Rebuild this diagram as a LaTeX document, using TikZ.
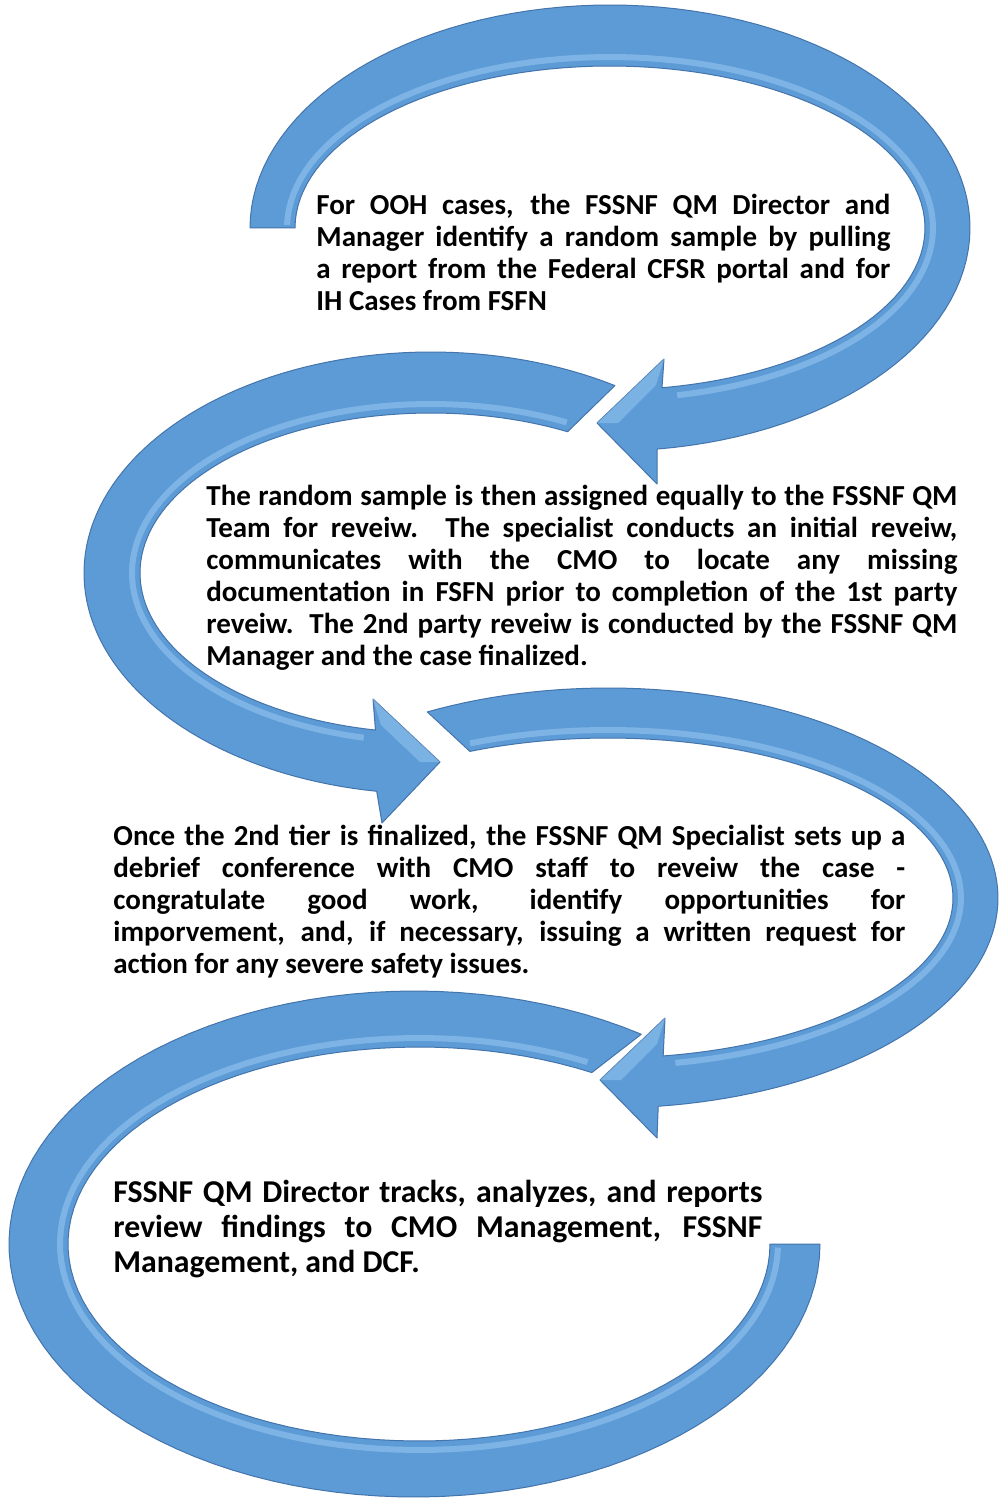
\documentclass[tikz,border=0pt]{standalone}
\usepackage{fontspec}
\setmainfont{Carlito}
\begin{document}
\begin{tikzpicture}[x=0.5pt,y=-0.5pt]
\definecolor{bandblue}{RGB}{92,155,214}
\definecolor{bandlight}{RGB}{150,198,240}
\definecolor{banddark}{RGB}{68,116,172}
\tikzset{
  band/.style={fill=bandblue, draw=banddark, line width=0.5pt, line join=round},
  hilite/.style={draw=bandlight, line width=3pt, opacity=0.6},
  facet/.style={fill=bandlight, opacity=0.55},
  txt/.style={anchor=north west, inner sep=0pt, align=justify, font=\fontsize{14.5}{16}\selectfont\bfseries}
}
\useasboundingbox (0,0) rectangle (998,1498);
\fill[white] (0,0) rectangle (998,1498);

% ---------- arrow 1 (top) ----------
\path[band] plot[domain=180:442.5,samples=100,variable=\t]({610+360*cos(\t)},{228+223*sin(\t)})
  -- (657,484) -- (597,423) -- (664,359)
  -- plot[domain=440.5:180,samples=100,variable=\t]({610+315*cos(\t)},{228+162*sin(\t)}) -- cycle;
\draw[hilite] plot[domain=181:438,samples=100,variable=\t]({610+323*cos(\t)},{228+171*sin(\t)});
\fill[facet] (664,359) -- (597,423) -- (618,423) -- (656,385) -- cycle;

% ---------- arrow 2 ----------
\path[band] plot[domain=302:99,samples=100,variable=\t]({431+347*cos(\t)},{573+221*sin(\t)})
  -- (382,823) -- (440,762) -- (373,699)
  -- plot[domain=101:298,samples=100,variable=\t]({431+291*cos(\t)},{573+160*sin(\t)}) -- cycle;
\draw[hilite] plot[domain=103:297,samples=100,variable=\t]({431+299*cos(\t)},{573+169*sin(\t)});
\fill[facet] (373,699) -- (440,762) -- (420,762) -- (381,725) -- cycle;

% ---------- arrow 3 ----------
\path[band] plot[domain=242.4:442.6,samples=100,variable=\t]({608+390*cos(\t)},{898+210*sin(\t)})
  -- (657,1138) -- (600,1080) -- (665,1018)
  -- plot[domain=440.8:246.4,samples=100,variable=\t]({608+345*cos(\t)},{898+160*sin(\t)}) -- cycle;
\draw[hilite] plot[domain=247:439,samples=100,variable=\t]({608+353*cos(\t)},{898+168*sin(\t)});
\fill[facet] (665,1018) -- (600,1080) -- (621,1080) -- (657,1044) -- cycle;

% ---------- arrow 4 (bottom) ----------
\path[band] plot[domain=304:0,samples=100,variable=\t]({414.5+405.5*cos(\t)},{1244+253*sin(\t)})
  -- plot[domain=0:299.5,samples=100,variable=\t]({419+351*cos(\t)},{1244+197*sin(\t)}) -- cycle;
\draw[hilite] plot[domain=1:298,samples=100,variable=\t]({419+359*cos(\t)},{1244+206*sin(\t)});

% ---------- texts ----------
\node[txt, text width=287pt] (t1) at (316,194) {\hyphenpenalty=10000\tolerance=10000\hbadness=10000
For OOH cases, the FSSNF QM Director and\linebreak Manager  identify a random sample by pulling\linebreak a report from the Federal CFSR portal and for\linebreak IH Cases from FSFN};

\node[txt, text width=375.5pt] (t2) at (206,485) {\hyphenpenalty=10000\tolerance=10000\hbadness=10000
The random sample is then assigned equally to the FSSNF QM\linebreak Team for reveiw.  The specialist conducts an initial reveiw,\linebreak communicates with the CMO to locate any missing\linebreak documentation in FSFN prior to completion of the 1st party\linebreak reveiw.  The 2nd party reveiw is conducted by the FSSNF QM\linebreak Manager and the case finalized.};

\node[txt, text width=396pt] (t3) at (113,825) {\hyphenpenalty=10000\tolerance=10000\hbadness=10000
Once the 2nd tier is finalized, the FSSNF QM Specialist sets up a\linebreak debrief conference with CMO staff to reveiw the case -\linebreak congratulate good work, identify opportunities for\linebreak imporvement, and, if necessary, issuing a written request for\linebreak action for any severe safety issues.};

\node[txt, text width=324.5pt, font=\fontsize{15.9}{17.5}\selectfont\bfseries] (t4) at (113,1180) {\hyphenpenalty=10000\tolerance=10000\hbadness=10000
FSSNF QM Director tracks, analyzes, and reports\linebreak review findings to CMO Management, FSSNF\linebreak Management, and DCF.};
\end{tikzpicture}
\end{document}
